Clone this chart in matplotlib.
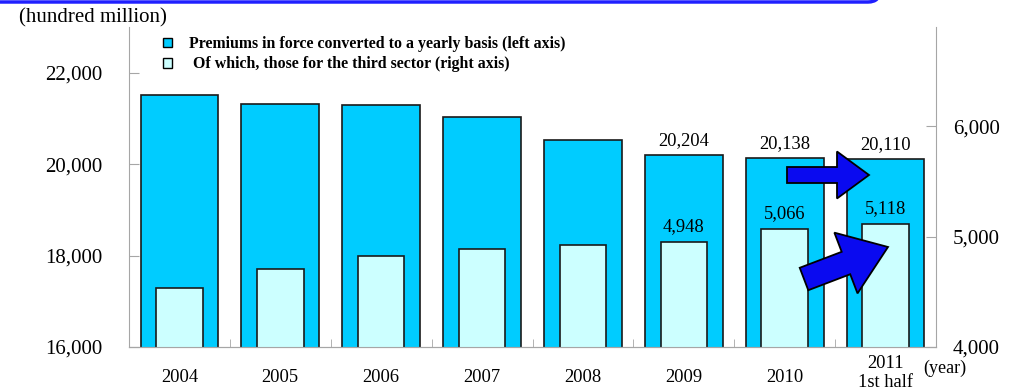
import matplotlib.pyplot as plt
from matplotlib.patches import Patch, FancyArrow, FancyBboxPatch
import numpy as np

years = ['2004', '2005', '2006', '2007', '2008', '2009', '2010', '2011\n1st half']
total_premiums = [21515, 21326, 21290, 21030, 20520, 20204, 20138, 20110]
third_sector = [4532, 4705, 4823, 4886, 4926, 4948, 5066, 5118]
labelled = [5, 6, 7]  # bars that carry a value label

left_ticks = [16000, 18000, 20000, 22000]
right_ticks = [4000, 5000, 6000]

W, H = 1019, 391
SERIF = 'Liberation Serif'
GREY = '#a6a6a6'
CYAN = '#00ccff'
PALE = '#ccffff'
BLUE = '#0a0af0'


def px(x, y):
    # pixel position (from top-left) -> inches for dpi_scale_trans
    return x / 100, (H - y) / 100


def block_arrow(fig, tail, tip, width, head_width, head_length):
    x0, y0 = px(*tail)
    x1, y1 = px(*tip)
    arr = FancyArrow(x0, y0, x1 - x0, y1 - y0, width=width / 100,
                     head_width=head_width / 100, head_length=head_length / 100,
                     length_includes_head=True, transform=fig.dpi_scale_trans,
                     fc=BLUE, ec='black', lw=1.3, zorder=10)
    fig.add_artist(arr)


def main():
    fig = plt.figure(figsize=(W / 100, H / 100), dpi=100)
    ax = fig.add_axes([129 / W, 1 - 347 / H, (936 - 129) / W, (347 - 27) / H])
    ax2 = ax.twinx()

    x = np.arange(len(years))
    ax.bar(x, total_premiums, width=0.77, color=CYAN, edgecolor='#1a1a1a', lw=1.2)
    ax2.bar(x, third_sector, width=0.46, color=PALE, edgecolor='#1a1a1a', lw=1.2)

    ax.set_xlim(-0.5, len(years) - 0.5)
    ax.set_ylim(16000, 23000)
    ax2.set_ylim(4000, 6900)

    for i in labelled:
        ax.annotate(f'{total_premiums[i]:,}', (x[i], total_premiums[i]),
                    xytext=(0, 4), textcoords='offset points', ha='center',
                    va='bottom', fontsize=13.3, family=SERIF)
        ax2.annotate(f'{third_sector[i]:,}', (x[i], third_sector[i]),
                     xytext=(0, 5), textcoords='offset points', ha='center',
                     va='bottom', fontsize=13.3, family=SERIF)

    # axes styling
    for a in (ax, ax2):
        a.spines['top'].set_visible(False)
        for s in a.spines.values():
            s.set_color(GREY)
    ax.spines['right'].set_visible(False)
    ax2.spines['left'].set_visible(False)

    ax.set_yticks(left_ticks)
    ax.set_yticklabels([f'{v:,}' for v in left_ticks], family=SERIF, fontsize=15)
    ax.tick_params(axis='y', direction='in', length=7, color=GREY, pad=19)
    ax2.set_yticks(right_ticks)
    ax2.set_yticklabels([f'{v:,}' for v in right_ticks], family=SERIF, fontsize=15)
    ax2.tick_params(axis='y', direction='in', length=7, color=GREY, pad=12)

    ax.set_xticks(x)
    ax.set_xticklabels(years, family=SERIF, fontsize=13.3, va='center',
                       linespacing=1.2)
    ax.set_xticks(x[:-1] + 0.5, minor=True)
    ax.tick_params(axis='x', which='major', length=0, pad=22)
    ax.tick_params(axis='x', which='minor', direction='in', length=6, color=GREY)
    # two-line label sits a little higher so it stays inside the figure
    ax.get_xticklabels()[-1].set_y(0.014)

    fig.text(19 / W, 1 - 18 / H, '(hundred million)', family=SERIF, fontsize=15,
             va='center', ha='left')
    fig.text(923 / W, 1 - 368 / H, '(year)', family=SERIF, fontsize=13,
             va='center', ha='left')

    handles = [Patch(fc=CYAN, ec='black', lw=1), Patch(fc=PALE, ec='black', lw=1)]
    labels = ['Premiums in force converted to a yearly basis (left axis)',
              ' Of which, those for the third sector (right axis)']
    ax.legend(handles, labels, loc='upper left',
              bbox_to_anchor=(163 / W, 1 - 36 / H), bbox_transform=fig.transFigure,
              frameon=False, borderpad=0, borderaxespad=0,
              handlelength=0.57, handleheight=0.57, handletextpad=1.05,
              labelspacing=0.28,
              prop={'family': SERIF, 'weight': 'bold', 'size': 11.4})

    # title banner edge along the top
    x0, y0 = px(-20, 2)
    banner = FancyBboxPatch((x0, y0), (880 + 20) / 100, 0.6,
                            boxstyle='round,pad=0,rounding_size=0.12',
                            transform=fig.dpi_scale_trans, fc='none',
                            ec='#1f1fff', lw=2.5, zorder=5)
    fig.add_artist(banner)

    block_arrow(fig, (787, 175), (869, 175), 16, 47, 32)
    block_arrow(fig, (804, 279), (888, 247), 24, 65, 45)

    fig.savefig('out.png', dpi=100)


if __name__ == '__main__':
    main()
